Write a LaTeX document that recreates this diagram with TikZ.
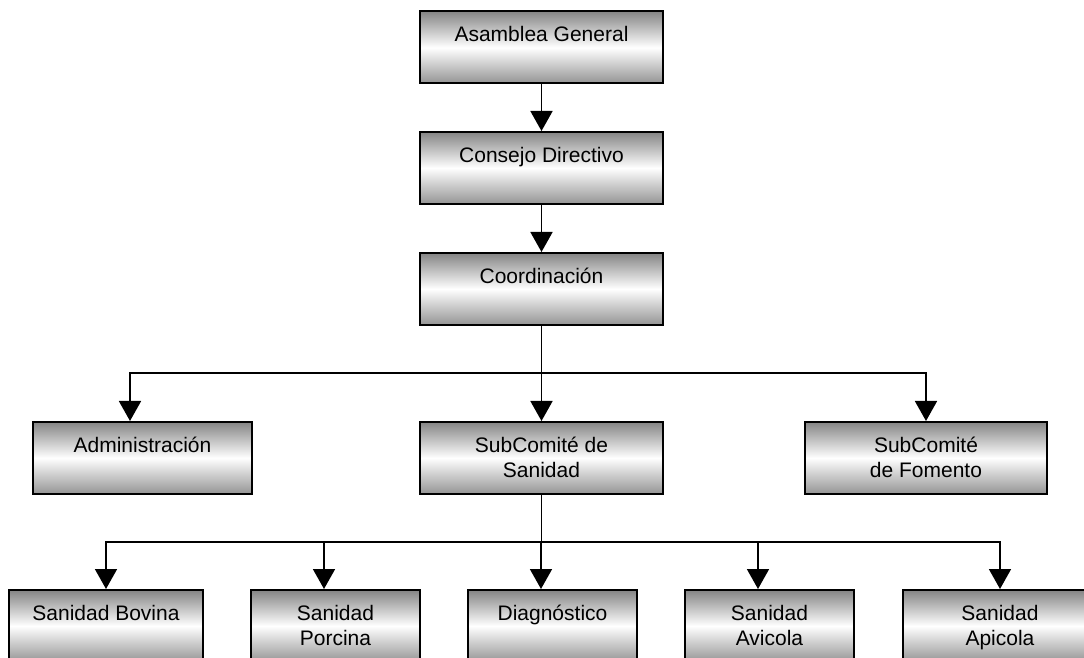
\documentclass[tikz,border=0pt]{standalone}
\usepackage{fontspec}
\setmainfont{Liberation Sans}
\usepackage{tikz}
\usetikzlibrary{arrows.meta}
\tikzset{grad node/.style={rectangle,draw,line width=1pt,top color=black!48,bottom color=black!42,middle color=white,minimum height=36pt,inner sep=0pt,align=center,text height=8pt,text depth=13.5pt,font=\fontsize{10.5pt}{12.5pt}\selectfont},}
\tikzset{two lines/.style={text height=20.5pt,text depth=1pt},}
\tikzset{wide node/.style={grad node,minimum width=121.5pt},}
\tikzset{small node/.style={grad node,minimum width=84.5pt},}
\tikzset{arrow line/.style={line width=0.9pt,-{Triangle[width=11pt,length=10pt]}},}

\begin{document}
\begin{tikzpicture}[x=0.5pt,y=-0.5pt]
       \useasboundingbox (0,0) rectangle (1084,658);
       \clip (0,0) rectangle (1084,658);

       \node[wide node] (asamblea) at (541.5,47.5) {Asamblea General};
       \node[wide node] (consejo) at (541.5,168) {Consejo Directivo};
       \node[wide node] (coord) at (541.5,289) {Coordinación};

       \node[grad node,minimum width=109.5pt] (admin) at (142.5,458) {Administración};
       \node[wide node,two lines] (sanidad) at (541.5,458) {SubComité de\\Sanidad};
       \node[grad node,two lines,minimum width=121pt] (fomento) at (926,458) {SubComité\\de Fomento};

       \node[grad node,minimum width=97pt] (bovina) at (106,626) {Sanidad Bovina};
       \node[small node,two lines] (porcina) at (335.5,626) {Sanidad\\Porcina};
       \node[small node] (diag) at (552.5,626) {Diagnóstico};
       \node[small node,two lines] (avicola) at (769.5,626) {Sanidad\\Avicola};
       \node[grad node,two lines,minimum width=97pt] (apicola) at (1000,626) {Sanidad\\Apicola};

       \coordinate (busa) at (541.5,373);
       \coordinate (busb) at (541.5,542);

       \draw[arrow line] (asamblea) -- (consejo);
       \draw[arrow line] (consejo) -- (coord);

       \draw[line width=0.9pt] (coord) -- (busa);
       \draw[arrow line] (busa) -| ([xshift=-6.25pt]admin.north);
       \draw[arrow line] (busa) -- (sanidad);
       \draw[arrow line] (busa) -| (fomento.north);

       \draw[line width=0.9pt] (sanidad) -- (busb);
       \draw[arrow line] (busb) -| (bovina.north);
       \draw[arrow line] (busb) -| ([xshift=-5.75pt]porcina.north);
       \draw[arrow line] (busb) -| ([xshift=-5.75pt]diag.north);
       \draw[arrow line] (busb) -| ([xshift=-5.75pt]avicola.north);
       \draw[arrow line] (busb) -| (apicola.north);
    \end{tikzpicture}
\end{document}
